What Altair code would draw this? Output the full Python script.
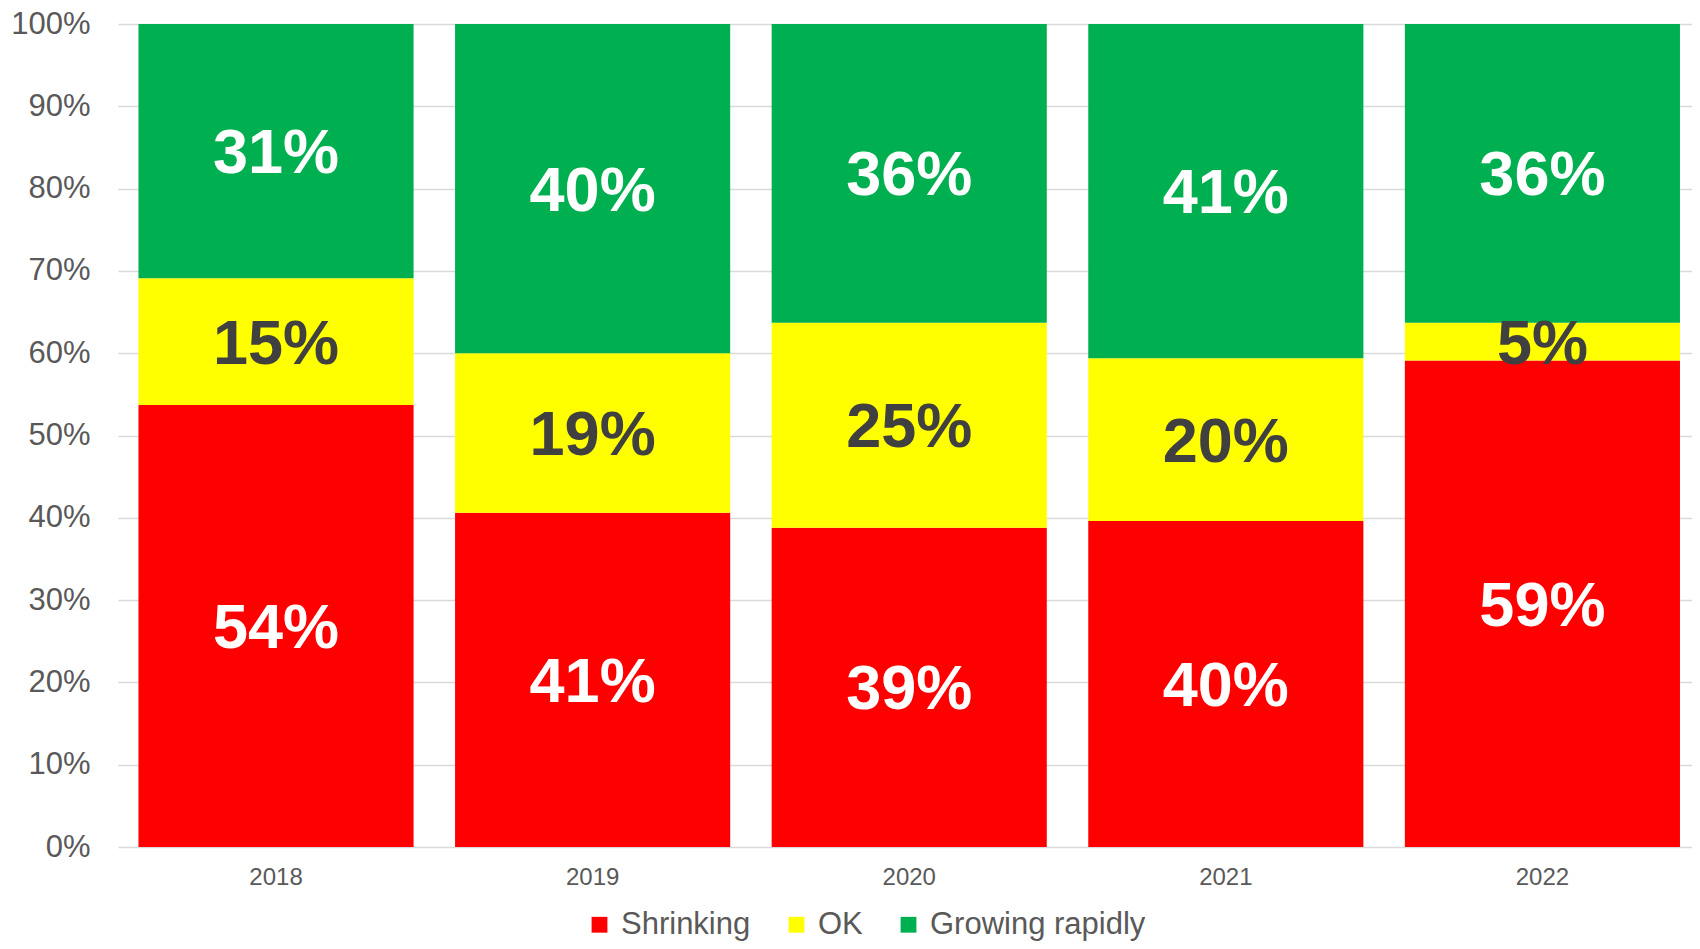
import altair as alt
import pandas as pd

years = ["2018", "2019", "2020", "2021", "2022"]
categories = ["Shrinking", "OK", "Growing rapidly"]
shrinking = [53.7, 40.6, 38.8, 39.6, 59.1]
ok = [15.4, 19.4, 24.9, 19.8, 4.6]
growing = [30.9, 40.0, 36.3, 40.6, 36.3]
colors = ["#FF0000", "#FFFF00", "#00B050"]
label_colors = ["#FFFFFF", "#404040", "#FFFFFF"]

rows = []
series = [shrinking, ok, growing]
for i, y in enumerate(years):
    base = 0.0
    for j, cat in enumerate(categories):
        v = series[j][i]
        rows.append({
            "year": y, "cat": cat, "order": j,
            "start": base / 100, "end": (base + v) / 100,
            "mid": (base + v / 2) / 100,
            "label": f"{round(v):d}%",
            "lcolor": label_colors[j],
        })
        base += v
df = pd.DataFrame(rows)

xscale = alt.Scale(paddingInner=0.131, paddingOuter=0.0513, align=0.63)

xenc = alt.X("year:N", title=None, sort=years, scale=xscale,
             axis=alt.Axis(labelAngle=0, labelFontSize=24, labelColor="#595959",
                           labelFont="Liberation Sans", ticks=False, domain=False,
                           labelPadding=18, grid=False))

bars = alt.Chart(df).mark_bar(strokeWidth=0).encode(
    x=xenc,
    y=alt.Y("start:Q", title=None, scale=alt.Scale(domain=[0, 1], nice=False),
            axis=alt.Axis(format=".0%", values=[i / 10 for i in range(11)],
                          labelFontSize=31, labelColor="#595959",
                          labelFont="Liberation Sans", ticks=False, domain=False,
                          labelPadding=28, gridColor="#D9D9D9", gridWidth=1.5)),
    y2="end:Q",
    color=alt.Color("cat:N", sort=categories,
                    scale=alt.Scale(domain=categories, range=colors),
                    legend=alt.Legend(title=None, orient="none", direction="horizontal",
                                      legendX=466, legendY=885, padding=0,
                                      symbolType="square", symbolSize=250,
                                      symbolStrokeWidth=0, labelFontSize=31,
                                      labelColor="#595959", labelFont="Liberation Sans",
                                      labelOffset=6, columnPadding=30, labelLimit=0)),
)

texts = alt.Chart(df).mark_text(fontSize=63, fontWeight="bold", font="Liberation Sans",
                                baseline="middle", align="center", dy=3).encode(
    x=alt.X("year:N", sort=years, scale=xscale),
    y=alt.Y("mid:Q"),
    text="label:N",
    color=alt.Color("lcolor:N", scale=None, legend=None),
)

chart = alt.layer(bars, texts).properties(
    width=1574, height=823,
    padding={"left": 110, "top": 16, "right": 0, "bottom": 94},
    autosize=alt.AutoSizeParams(type="none"),
).configure_view(stroke=None).configure_axis(gridColor="#D9D9D9")

chart.save("out.html", embed_options={"renderer": "svg", "actions": False})
